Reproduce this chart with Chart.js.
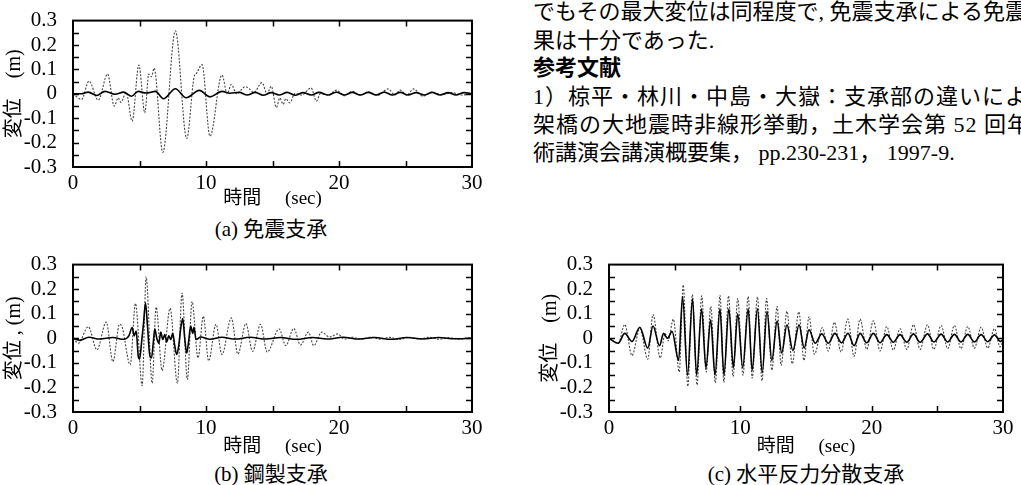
<!DOCTYPE html>
<html>
<head>
<meta charset="utf-8">
<script src="https://cdn.jsdelivr.net/npm/chart.js@4.4.0/dist/chart.umd.min.js"></script>
<style>
body { margin: 0; background: #fff; width: 1021px; height: 485px; overflow: hidden; position: relative;
       font-family: "Liberation Serif", "Noto Sans CJK JP", serif; color: #000; }
canvas { position: absolute; }
.cap { position: absolute; font-size: 21px; line-height: 24px; white-space: nowrap; transform: translateX(-50%); }
.txt { position: absolute; left: 533px; font-size: 22px; line-height: 24px; white-space: nowrap; }
</style>
</head>
<body>
<canvas id="chartA" width="490" height="215" style="left:0;top:0"></canvas>
<canvas id="chartB" width="490" height="216" style="left:0;top:244px"></canvas>
<canvas id="chartC" width="485" height="216" style="left:536px;top:244px"></canvas>

<div class="cap" style="left:271px;top:217px">(a) 免震支承</div>
<div class="cap" style="left:271px;top:462px">(b) 鋼製支承</div>
<div class="cap" style="left:806px;top:462px">(c) 水平反力分散支承</div>

<div class="txt" style="top:0px">でもその最大変位は同程度で, 免震支承による免震効</div>
<div class="txt" style="top:29px">果は十分であった.</div>
<div class="txt" style="top:56px;font-weight:bold">参考文献</div>
<div class="txt" style="top:85px;letter-spacing:1px">1）椋平・林川・中島・大嶽：支承部の違いによる</div>
<div class="txt" style="top:113px;letter-spacing:1px">架橋の大地震時非線形挙動，土木学会第 52 回年次</div>
<div class="txt" style="top:141px">術講演会講演概要集， pp.230-231， 1997-9.</div>

<script>
// (a) 免震支承：时间(sec) / 变位(m)
const tA_dot = [0, 0.65, 1.2, 1.9, 2.6, 3.1, 3.4, 3.6, 4.0, 4.45, 4.95, 5.4, 5.7, 5.9, 6.1, 6.75, 7.7, 8.55, 9.1, 9.3, 9.7, 10.3, 11.2, 11.6, 11.9, 12.3, 12.95, 13.3, 13.6, 14.2, 14.6, 14.9, 15.3, 15.55, 15.8, 16.0, 16.3, 16.7, 17.2, 17.9, 18.3, 18.6, 19.2, 19.8, 20.4, 21.0, 21.6, 22.2, 22.9, 23.7, 24.2, 24.6, 25.1, 25.6, 26.3, 27.0, 27.8, 28.5, 29.2, 30];
const vA_dot = [0, -0.023, 0.052, -0.026, 0.081, -0.05, -0.017, -0.035, 0.005, -0.112, 0.118, -0.078, 0.081, 0.07, 0.105, -0.24, 0.258, -0.183, 0.068, 0.085, 0.12, -0.174, 0.077, 0.0, 0.038, 0.0, 0.029, 0.018, 0.005, 0.046, 0.0, 0.031, -0.056, -0.017, -0.043, -0.02, -0.037, 0.002, -0.005, 0.024, -0.03, 0.0, -0.005, 0.015, -0.008, 0.01, -0.006, 0.008, -0.006, 0.02, -0.005, 0.015, -0.006, 0.02, -0.01, 0.006, -0.004, 0.005, -0.005, 0];
const tA_sol = [0, 0.6, 1.15, 1.78, 2.4, 3.16, 3.8, 4.4, 4.9, 5.5, 6.2, 6.8, 7.7, 8.5, 9.5, 10.3, 11.2, 11.8, 12.5, 13.1, 13.7, 14.3, 14.9, 15.5, 16.1, 16.7, 17.3, 17.9, 18.5, 19.2, 19.8, 20.4, 21.0, 21.6, 22.2, 22.8, 23.4, 24.0, 24.6, 25.2, 25.8, 26.4, 27.0, 27.6, 28.2, 28.8, 29.4, 30];
const vA_sol = [0, 0.0, 0.007, -0.007, 0.01, -0.002, 0.007, -0.01, 0.01, 0.003, 0.01, -0.02, 0.021, -0.016, 0.014, -0.012, 0.01, 0.002, 0.006, -0.005, 0.006, -0.006, 0.005, -0.005, 0.006, -0.006, 0.005, -0.005, 0.006, -0.005, 0.007, -0.005, 0.006, -0.005, 0.006, -0.005, 0.007, -0.005, 0.006, -0.005, 0.005, -0.005, 0.006, -0.005, 0.005, -0.005, 0.005, 0];

// (b) 鋼製支承
const tB_dot = [0, 0.4, 1.15, 1.8, 2.5, 3.0, 3.5, 3.7, 4.3, 4.7, 5.2, 5.5, 5.95, 6.25, 6.7, 7.3, 7.85, 8.2, 8.6, 8.95, 9.4, 9.8, 10.2, 10.75, 11.2, 11.9, 12.4, 13.0, 13.5, 14.1, 14.6, 15.5, 16.0, 16.6, 17.1, 17.7, 18.1, 18.7, 19.3, 19.9, 20.4, 21.0, 21.7, 22.4, 23.1, 23.8, 24.5, 25.3, 26.0, 26.8, 27.5, 28.3, 29.0, 29.7, 30];
const vB_dot = [0, -0.02, 0.047, -0.047, 0.066, -0.095, 0.057, 0.045, -0.108, 0.142, -0.193, 0.25, -0.183, 0.127, -0.131, 0.122, -0.183, 0.184, -0.168, 0.15, -0.08, 0.09, -0.092, 0.057, -0.066, 0.083, -0.064, 0.06, -0.053, 0.057, -0.056, 0.038, -0.03, 0.04, -0.027, 0.025, -0.03, 0.025, 0.005, 0.018, -0.003, 0.004, -0.004, 0.005, -0.004, 0.004, -0.005, 0.004, -0.003, 0.004, -0.004, 0.003, -0.004, 0.002, 0];
const tB_sol = [0, 0.5, 1.2, 2.0, 3.0, 3.8, 4.2, 4.45, 4.6, 4.75, 4.9, 5.0, 5.15, 5.3, 5.45, 5.6, 5.75, 5.9, 6.05, 6.15, 6.3, 6.45, 6.6, 6.75, 6.9, 7.05, 7.2, 7.35, 7.5, 7.65, 7.8, 7.95, 8.1, 8.25, 8.4, 8.55, 8.7, 8.85, 9.0, 9.1, 9.25, 9.6, 10.3, 11.2, 12.2, 13.3, 14.5, 15.6, 16.8, 18.0, 19.1, 20.3, 21.5, 22.7, 23.9, 25.1, 26.3, 27.5, 28.7, 30];
const vB_sol = [0, -0.008, 0.004, -0.003, 0.003, -0.004, 0.01, 0.044, 0.01, 0.03, -0.07, -0.085, -0.02, 0.06, 0.145, 0.05, -0.06, -0.08, -0.01, 0.038, 0.0, -0.02, 0.025, -0.005, 0.015, -0.015, 0.01, -0.005, 0.02, -0.03, -0.066, -0.03, 0.04, 0.08, 0.0, -0.06, -0.01, 0.05, 0.02, 0.045, -0.005, 0.005, -0.004, 0.004, -0.003, 0.004, -0.003, 0.003, -0.004, 0.003, -0.003, 0.004, -0.003, 0.003, -0.004, 0.003, -0.003, 0.003, -0.002, 0];

// (c) 水平反力分散支承
const tC_dot = [0, 0.7, 1.2, 1.75, 2.35, 2.95, 3.35, 3.9, 4.27, 4.5, 4.9, 5.35, 5.65, 6.0, 6.35, 6.7, 7.06, 7.4, 7.75, 8.1, 8.45, 8.75, 9.1, 9.45, 9.8, 10.2, 10.6, 10.9, 11.3, 11.65, 12.0, 12.4, 12.8, 13.1, 13.55, 13.95, 14.45, 14.85, 15.23, 15.64, 16.25, 16.7, 17.16, 17.67, 18.18, 18.66, 19.12, 19.62, 20.13, 20.64, 21.15, 21.65, 22.16, 22.67, 23.18, 23.69, 24.25, 24.73, 25.29, 25.79, 26.3, 26.8, 27.32, 27.82, 28.33, 28.84, 29.35, 29.78, 30];
const vC_dot = [0, -0.02, 0.056, -0.07, 0.04, -0.085, 0.097, -0.08, 0.02, -0.01, 0.078, -0.137, 0.217, -0.195, 0.178, -0.19, 0.173, -0.137, 0.13, -0.182, 0.175, -0.18, 0.173, -0.156, 0.162, -0.15, 0.17, -0.162, 0.169, -0.173, 0.162, -0.13, 0.13, -0.11, 0.11, -0.104, 0.108, -0.09, 0.088, -0.065, 0.043, -0.052, 0.065, -0.056, 0.078, -0.074, 0.078, -0.045, 0.071, -0.052, 0.048, -0.048, 0.039, -0.045, 0.055, -0.045, 0.055, -0.045, 0.052, -0.042, 0.052, -0.042, 0.048, -0.04, 0.045, -0.04, 0.039, -0.035, -0.01];
const tC_sol = [0, 0.7, 1.2, 1.75, 2.35, 2.95, 3.35, 3.85, 4.15, 4.45, 4.8, 5.3, 5.6, 5.98, 6.36, 6.67, 7.05, 7.38, 7.74, 8.07, 8.45, 8.75, 9.13, 9.47, 9.8, 10.18, 10.6, 10.9, 11.3, 11.67, 12.03, 12.4, 12.8, 13.15, 13.55, 14.0, 14.47, 14.86, 15.23, 15.7, 16.2, 16.7, 17.2, 17.7, 18.2, 18.66, 19.12, 19.62, 20.13, 20.64, 21.15, 21.65, 22.16, 22.67, 23.18, 23.69, 24.25, 24.73, 25.29, 25.79, 26.3, 26.8, 27.32, 27.82, 28.33, 28.84, 29.35, 29.8, 30];
const vC_sol = [0, -0.02, 0.02, -0.013, 0.045, -0.04, 0.05, -0.03, 0.02, 0.0, 0.028, -0.09, 0.17, -0.15, 0.16, -0.15, 0.12, -0.12, 0.075, -0.15, 0.12, -0.15, 0.12, -0.12, 0.1, -0.12, 0.12, -0.13, 0.12, -0.14, 0.11, -0.09, 0.07, -0.06, 0.055, -0.05, 0.055, -0.04, 0.035, -0.02, 0.018, -0.02, 0.02, -0.018, 0.02, -0.03, 0.02, -0.018, 0.02, -0.018, 0.015, -0.016, 0.015, -0.016, 0.018, -0.016, 0.018, -0.015, 0.017, -0.015, 0.016, -0.015, 0.016, -0.015, 0.015, -0.014, 0.014, -0.013, -0.005];

// 刻度
const xTickLabels = ['0', '10', '20', '30'];
const yTickLabels = ['-0.3', '-0.2', '-0.1', '0', '0.1', '0.2', '0.3'];
const xTickMarks = [5, 10, 15, 20, 25];
const yTickMarks = [-0.25, -0.2, -0.15, -0.1, -0.05, 0, 0.05, 0.1, 0.15, 0.2, 0.25];

const FONT = '"Liberation Serif", "Noto Sans CJK JP", serif';

function toPoints(t, v) {
    return t.map((x, i) => ({ x: x, y: v[i] }));
}

// 画外框和朝内的刻度
const frameTicks = {
    id: 'frameTicks',
    afterDraw(chart) {
        const { ctx, chartArea: a, scales: { x, y } } = chart;
        ctx.save();
        ctx.strokeStyle = '#000';
        ctx.lineWidth = 1.5;
        ctx.beginPath();
        yTickMarks.forEach(v => {
            const py = Math.round(y.getPixelForValue(v)) + 0.5;
            ctx.moveTo(a.left, py); ctx.lineTo(a.left + 6, py);
            ctx.moveTo(a.right, py); ctx.lineTo(a.right - 6, py);
        });
        xTickMarks.forEach(v => {
            const px = Math.round(x.getPixelForValue(v)) + 0.5;
            ctx.moveTo(px, a.top); ctx.lineTo(px, a.top + 6);
            ctx.moveTo(px, a.bottom); ctx.lineTo(px, a.bottom - 6);
        });
        ctx.stroke();
        ctx.lineWidth = 2;
        ctx.strokeRect(a.left, a.top, a.right - a.left, a.bottom - a.top);
        ctx.restore();
    }
};

function drawChart(id, yTitle, dot, sol, xTitlePad) {
    new Chart(document.getElementById(id), {
        type: 'line',
        data: {
            datasets: [
                { data: sol, borderColor: '#000', borderWidth: 1.6, pointRadius: 0, cubicInterpolationMode: 'monotone' },
                { data: dot, borderColor: '#444', borderWidth: 1.1, borderDash: [2, 1.5], pointRadius: 0, cubicInterpolationMode: 'monotone' }
            ]
        },
        options: {
            animation: false,
            responsive: false,
            devicePixelRatio: 1,
            layout: { padding: { top: 14, right: 18, left: 0, bottom: 0 } },
            plugins: { legend: { display: false }, tooltip: { enabled: false } },
            scales: {
                x: {
                    type: 'linear', min: 0, max: 30,
                    grid: { display: false }, border: { display: false },
                    ticks: {
                        stepSize: 10, maxRotation: 0, autoSkip: false, padding: -4, color: '#000',
                        font: { family: FONT, size: 21 },
                        callback: v => xTickLabels[Math.round(v / 10)]
                    },
                    title: {
                        display: true, text: '時間　 (sec)', color: '#000',
                        font: { family: FONT, size: 19 },
                        padding: { top: 0, bottom: xTitlePad }
                    },
                    afterFit(s) { s.height = 48; }
                },
                y: {
                    min: -0.3, max: 0.3,
                    grid: { display: false }, border: { display: false },
                    ticks: {
                        stepSize: 0.1, autoSkip: false, padding: 8, color: '#000',
                        font: { family: FONT, size: 21 },
                        callback: v => yTickLabels[Math.round(v * 10) + 3]
                    },
                    title: {
                        display: true, text: yTitle, color: '#000',
                        font: { family: FONT, size: 20 },
                        padding: { top: 3, bottom: 0 }
                    },
                    afterFit(s) { s.width = 73; }
                }
            }
        },
        plugins: [frameTicks]
    });
}

drawChart('chartA', '変位　(m)', toPoints(tA_dot, vA_dot), toPoints(tA_sol, vA_sol), 5);
drawChart('chartB', '変位 , (m)', toPoints(tB_dot, vB_dot), toPoints(tB_sol, vB_sol), 2);
drawChart('chartC', '変位　(m)', toPoints(tC_dot, vC_dot), toPoints(tC_sol, vC_sol), 2);
</script>
</body>
</html>
